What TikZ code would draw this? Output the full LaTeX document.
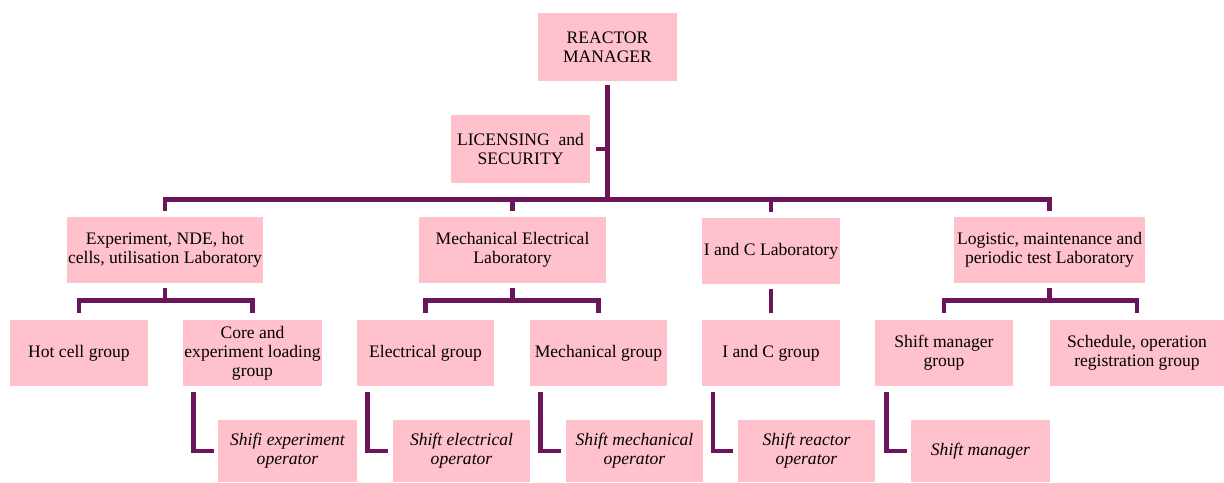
\documentclass[tikz,border=0pt]{standalone}
\usepackage{fontspec}
\setmainfont{Liberation Serif}
\usepackage{tikz}
\usetikzlibrary{positioning,calc}
\definecolor{boxpink}{RGB}{255,193,204}
\definecolor{linkpurple}{RGB}{108,20,92}
\tikzset{
  orgbox/.style={fill=boxpink,align=center,inner sep=1pt,
    font=\fontsize{12.5}{13.5}\selectfont},
  topbox/.style={orgbox,minimum width=3.45cm,minimum height=1.7cm},
  labbox/.style={orgbox,minimum width=4.75cm,minimum height=1.65cm},
  grpbox/.style={orgbox,minimum width=3.43cm,minimum height=1.65cm},
  opbox/.style={orgbox,minimum width=3.45cm,minimum height=1.55cm,
    font=\fontsize{12.5}{13.5}\selectfont\itshape},
  link/.style={line width=3.4pt,draw=linkpurple,line join=miter},
}

\begin{document}
\begin{tikzpicture}[x=0.025cm,y=-0.025cm]
  \useasboundingbox (0,0) rectangle (1224,482);
  % top level
  \node[topbox] (mgr) at (607.5,47) {REACTOR\\MANAGER};
  \node[topbox] (lic) at (520.5,149) {LICENSING\ \ and\\SECURITY};
  % laboratories
  \node[labbox,minimum width=4.8cm] (exp) at (165,250) {Experiment, NDE, hot\\cells, utilisation Laboratory};
  \node[labbox,minimum width=4.68cm] (mel) at (512.5,250) {Mechanical Electrical\\Laboratory};
  \node[grpbox,minimum width=3.45cm] (icl) at (771,251) {I and C Laboratory};
  \node[labbox,minimum width=4.78cm] (lgl) at (1049.5,250) {Logistic, maintenance and\\periodic test Laboratory};
  % groups
  \node[grpbox] (hcg) at (79,353) {Hot cell group};
  \node[grpbox] (ceg) at (252.5,353) {Core and\\experiment loading\\group};
  \node[grpbox] (elg) at (425.5,353) {Electrical group};
  \node[grpbox] (meg) at (598.5,353) {Mechanical group};
  \node[grpbox] (icg) at (771,353) {I and C group};
  \node[grpbox] (smg) at (944,353) {Shift manager\\group};
  \node[grpbox,minimum width=4.35cm] (sog) at (1137,353) {Schedule, operation\\registration group};
  % shift operators
  \node[opbox] (seo) at (287.5,451) {Shifi experiment\\operator};
  \node[opbox,minimum width=3.43cm] (sel) at (461.5,451) {Shift electrical\\operator};
  \node[opbox,minimum width=3.43cm] (smo) at (634.5,451) {Shift mechanical\\operator};
  \node[opbox,minimum width=3.43cm] (sro) at (806.5,451) {Shift reactor\\operator};
  \node[opbox] (smn) at (980.5,451) {Shift manager};

  % main trunk and bus
  \draw[link] (mgr.south) ++(0,4) -- ++(0,115);
  \draw[link] (lic.east) ++(6,0) -- (lic.east -| mgr.south);
  \draw[link] (exp.north) ++(0,-6) -- ++(0,-11) -| ($(lgl.north)+(0,-6)$);
  \draw[link] (mel.north) ++(0,-6) -- ++(0,-11);
  \draw[link] (icl.north) ++(0,-6) -- ++(0,-11);
  % lab to groups
  \foreach \lab/\ga/\gb in {exp/hcg/ceg,mel/elg/meg,lgl/smg/sog}{
    \draw[link] (\lab.south) ++(0,5) -- ++(0,13);
    \draw[link] (\ga.north) ++(0,-7) -- ++(0,-12) -| ($(\gb.north)+(0,-7)$);
  }
  \draw[link] (icl.south) ++(0,5) -- ($(icg.north)+(0,-7)$);
  % groups to shift operators
  \foreach \grp/\op in {ceg/seo,elg/sel,meg/smo,icg/sro,smg/smn}
    \draw[link,shorten >=3pt] (\grp.south west) ++(11,6) |- (\op.west);
\end{tikzpicture}
\end{document}
